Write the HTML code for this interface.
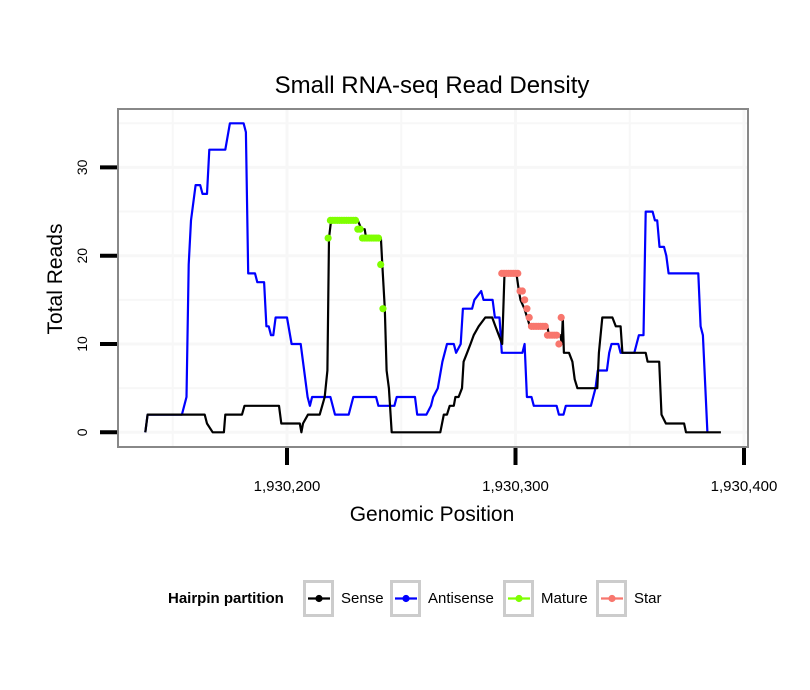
<!DOCTYPE html>
<html><head><meta charset="utf-8"><style>
body{margin:0;background:#fff;}
svg{display:block;font-family:"Liberation Sans",sans-serif;}
</style></head><body>
<svg id="chart" width="810" height="690" viewBox="0 0 810 690">
<text x="432" y="93" font-size="24" text-anchor="middle">Small RNA-seq Read Density</text>
<g id="grid"></g>
<g id="series"></g>
<rect x="118" y="109" width="630" height="338" fill="none" stroke="#888" stroke-width="2"/>
<g id="axes"></g>
<text x="432" y="521" font-size="21" text-anchor="middle">Genomic Position</text>
<text transform="translate(62,279) rotate(-90)" font-size="21" text-anchor="middle">Total Reads</text>
<g>
<text x="168" y="603" font-size="15" font-weight="bold">Hairpin partition</text>
<g id="legend"></g>
</g>
</svg>
<script>
const xTicks=[1930200,1930300,1930400];
const xTickLabels=["1,930,200","1,930,300","1,930,400"];
const yTicks=[0,10,20,30];
const yTickLabels=["0","10","20","30"];
const B=1930200;
const sensePos=[-62,-61,-36,-35,-32.5,-27.6,-27,-19.7,-18.6,-3.5,-2.5,5.6,6.3,7,9.2,14.3,15.4,16.5,17.7,18.4,19.3,31,32.6,34,34.6,41.1,41.7,42.8,43.6,44.6,45.8,67.1,68.6,70,71.2,73,73.7,75.1,76.6,77.3,78.8,80.3,81.7,83.9,86.8,89.8,91.2,92.7,94.2,95.2,100.4,101.5,102.2,103.9,105.1,106.3,113.9,114.6,119.7,120.2,120.7,121.2,123.4,124.9,125.9,127.1,135.8,136.5,138,142.4,143.9,146,146.8,157,157.8,162.9,163.9,165.8,173.8,174.6,189.9];
const senseVal=[0,2,2,1,0,0,2,2,3,3,1,1,0,1,2,2,3,4,7,22,24,24,23,23,22,22,19,14,7,5,0,0,2,2,3,3,4,4,5,8,9,10,11,12,13,13,12,11,10,18,18,16,15,14,13,12,12,11,11,10,13,9,9,8,6,5,5,9,13,13,12,12,9,9,8,8,2,1,1,0,0];
const antiPos=[-62,-61,-46,-44,-43,-42,-40,-38,-37,-35,-34,-27,-25,-19,-18,-17,-14,-13,-10,-9,-8,-7,-6,-5,0,2,6,7,9,10,11,19,21,27,29,39,40,47,48,56,57,61,63,64,66,68,70,73,74,76,77,81,82,85,86,90,91,93,94,103,104,105,107,108,118,119,121,122,133,134,135,136,140,141,142,145,146,152,153,154,156,157,160,161,162,163,165,166,167,180,181,182,184];
const antiVal=[0,2,2,4,19,24,28,28,27,27,32,32,35,35,34,18,18,17,17,12,12,11,11,13,13,10,10,8,4,3,4,4,2,2,4,4,3,3,4,4,2,2,3,4,5,8,10,10,9,10,14,14,15,16,15,15,13,13,9,9,10,4,4,3,3,2,2,3,3,4,5,7,7,9,10,10,9,9,10,11,11,25,25,24,24,21,21,20,18,18,12,11,0];
const maturePos=[18,19,20,21,22,23,24,25,26,27,28,29,30,31,32,33,34,35,36,37,38,39,40,41,42];
const matureVal=[22,24,24,24,24,24,24,24,24,24,24,24,24,23,23,22,22,22,22,22,22,22,22,19,14];
const starPos=[94,95,96,97,98,99,100,101,102,103,104,105,106,107,108,109,110,111,112,113,114,115,116,117,118,119,120];
const starVal=[18,18,18,18,18,18,18,18,16,16,15,14,13,12,12,12,12,12,12,12,11,11,11,11,11,10,13];
const legendLabels=["Sense","Antisense","Mature","Star"];
const legendColors=["#000000","#0000ff","#7fff00","#f8766d"];
const xS=p=>287+(p-B)*2.285;
const yS=v=>432.3-v*8.83;
const NS="http://www.w3.org/2000/svg";
function mk(t,a,parent){const e=document.createElementNS(NS,t);for(const k in a)e.setAttribute(k,a[k]);parent.appendChild(e);return e;}
const grid=document.getElementById('grid');
for(let v=0;v<=35;v+=5){const l=mk('line',{x1:119,x2:747,y1:yS(v),y2:yS(v),stroke:'#f7f7f7','stroke-width':v%10?2:3},grid);

}
for(let p=B-50;p<=B+200;p+=50){const l=mk('line',{x1:xS(p),x2:xS(p),y1:110,y2:446,stroke:'#f7f7f7','stroke-width':p%100?2:3},grid);

}
const ser=document.getElementById('series');
function line(pos,val,col,name){const d=pos.map((p,i)=>(i?'L':'M')+xS(B+p).toFixed(1)+','+yS(val[i]).toFixed(1)).join('');
const e=mk('path',{d:d,fill:'none',stroke:col,'stroke-width':2.2,'stroke-linejoin':'round'},ser);

}
line(antiPos,antiVal,'#0000ff','antisense-line');
line(sensePos,senseVal,'#000000','sense-line');
function dots(pos,val,col,name){pos.forEach((p,i)=>{const c=mk('circle',{cx:xS(B+p),cy:yS(val[i]),r:3.6,fill:col},ser);

});}
dots(maturePos,matureVal,'#7fff00','mature-point');
dots(starPos,starVal,'#f8766d','star-point');
const ax=document.getElementById('axes');
yTicks.forEach((v,i)=>{const t=mk('line',{x1:100,x2:117,y1:yS(v),y2:yS(v),stroke:'#000','stroke-width':4},ax);


const tx=mk('text',{transform:`translate(87,${yS(v)}) rotate(-90)`,'font-size':14,'text-anchor':'middle'},ax);tx.textContent=yTickLabels[i];

});
xTicks.forEach((p,i)=>{const t=mk('line',{x1:xS(p),x2:xS(p),y1:448,y2:465,stroke:'#000','stroke-width':4},ax);


const tx=mk('text',{x:xS(p),y:491,'font-size':15,'text-anchor':'middle'},ax);tx.textContent=xTickLabels[i];

});
const lg=document.getElementById('legend');
const boxX=[303,390,503,596];
legendLabels.forEach((lab,i)=>{const g=mk('g',{},lg);


mk('rect',{x:boxX[i]+1.5,y:581.5,width:28,height:34,fill:'#fff',stroke:'#ccc','stroke-width':3},g);
mk('line',{x1:boxX[i]+5,x2:boxX[i]+27,y1:598.5,y2:598.5,stroke:legendColors[i],'stroke-width':2.2},g);
mk('circle',{cx:boxX[i]+16,cy:598.5,r:3.6,fill:legendColors[i]},g);
const t=mk('text',{x:boxX[i]+38,y:603,'font-size':15},g);t.textContent=lab;});
</script>
</body></html>
